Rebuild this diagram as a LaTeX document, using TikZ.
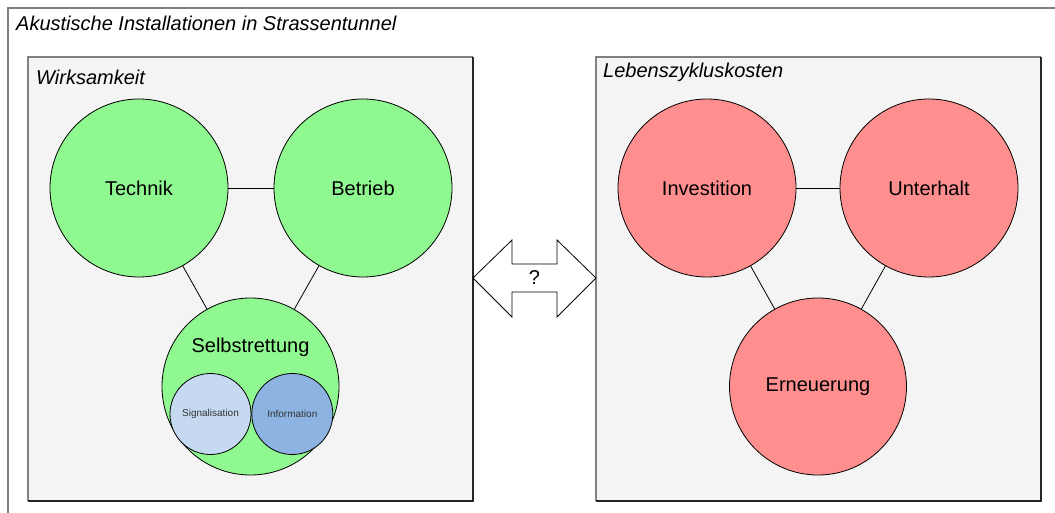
\documentclass[tikz,border=0pt]{standalone}
\usepackage{fontspec}
\setmainfont{Liberation Sans}
\usetikzlibrary{positioning}
\definecolor{gruen}{RGB}{144,248,144}
\definecolor{rot}{RGB}{255,143,143}
\definecolor{hellblau}{RGB}{197,217,241}
\definecolor{blau}{RGB}{141,179,226}
\definecolor{panelgrau}{RGB}{244,244,244}
\begin{document}
\begin{tikzpicture}[x=1pt,y=-1pt,
  big/.style={circle,draw,line width=.8pt,inner sep=0pt,minimum size=178pt,font=\fontsize{20}{24}\selectfont},
  small/.style={circle,draw,line width=.8pt,inner sep=0pt,minimum size=81pt,font=\fontsize{10}{12}\selectfont,text=black!80},
  titel/.style={anchor=west,inner sep=0pt,font=\fontsize{20}{24}\selectfont\itshape}]
\useasboundingbox (0,0) rectangle (1055,513);
\fill [white] (0,0) rectangle (1055,513);
\draw [gray,line width=1.5pt] (1055,8) -- (8,8) -- (8,513);
\node [titel] (titel) at (16,23) {Akustische Installationen in Strassentunnel};

% Wirksamkeit
\fill [panelgrau] (28,57) rectangle (473,501);
\draw [gray,line width=1.5pt] (28,501) -- (28,57) -- (473,57);
\draw [black!85,line width=1.5pt] (473,57) -- (473,501) -- (28,501);
\node [titel] (wirk) at (36,77) {Wirksamkeit};

\node [big,fill=gruen] (technik) at (139,188) {Technik};
\node [big,fill=gruen] (betrieb) at (363,188) {Betrieb};
\node [big,fill=gruen,minimum size=177pt] (selbst) at (250.5,386.5) {};
\node [font=\fontsize{20}{24}\selectfont] (selbsttext) at (250.5,347) {Selbstrettung};
\node [small,fill=hellblau] (signal) at (210.5,414) {Signalisation};
\node [small,fill=blau,right=0pt of signal] (info) {Information};
\draw [line width=.8pt] (technik) -- (betrieb);
\draw [line width=.8pt] (technik) -- (selbst);
\draw [line width=.8pt] (betrieb) -- (selbst);

% Lebenszykluskosten
\fill [panelgrau] (596,57) rectangle (1041,501);
\draw [gray,line width=1.5pt] (596,501) -- (596,57) -- (1041,57);
\draw [black!85,line width=1.5pt] (1041,57) -- (1041,501) -- (596,501);
\node [titel] (lzk) at (603,72) {Lebenszykluskosten};

\node [big,fill=rot] (invest) at (707,188) {Investition};
\node [big,fill=rot] (unterhalt) at (929,188) {Unterhalt};
\node [big,fill=rot,minimum size=177pt] (erneuerung) at (818,386.5) {Erneuerung};
\draw [line width=.8pt] (invest) -- (unterhalt);
\draw [line width=.8pt] (invest) -- (erneuerung);
\draw [line width=.8pt] (unterhalt) -- (erneuerung);

% Doppelpfeil
\draw [fill=white,line width=.8pt] (473,278) -- (512,240) -- (512,264) -- (557,264) -- (557,240)
  -- (596,278) -- (557,317) -- (557,292) -- (512,292) -- (512,317) -- cycle;
\node [font=\fontsize{20}{24}\selectfont] (frage) at (534.5,278) {?};
\end{tikzpicture}
\end{document}
